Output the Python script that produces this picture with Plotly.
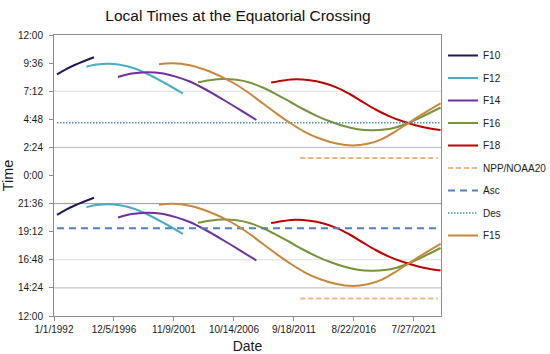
import pandas as pd
import plotly.graph_objects as go

# ---- data
# x: decimal years; y: ascending-node local time (hours).
# Descending-node time = ascending - 12 h (shown on the upper half of the axis).
F10_year = [1992.246, 1992.961, 1993.700, 1995.285]
F10_asc = [20.64, 21.07, 21.44, 22.10]

F12_year = [1994.661, 1995.507, 1996.411, 1997.396, 1998.628, 1999.860, 2001.092, 2002.596]
F12_asc = [21.292, 21.472, 21.540, 21.455, 21.139, 20.584, 19.900, 19.004]

F14_year = [1997.257, 1998.382, 1999.614, 2000.846, 2001.996, 2003.146, 2004.460,
            2005.881, 2007.253, 2008.624]
F14_asc = [20.413, 20.703, 20.823, 20.737, 20.447, 20.028, 19.345, 18.491, 17.628, 16.740]

F16_year = [2003.828, 2004.789, 2005.881, 2007.006, 2008.074, 2009.142, 2010.267,
            2011.359, 2012.452, 2013.577, 2014.645, 2015.877, 2016.945, 2018.095,
            2019.162, 2020.148, 2021.216, 2022.448, 2023.762]
F16_asc = [19.960, 20.140, 20.242, 20.174, 19.943, 19.516, 18.935, 18.320, 17.680,
           17.099, 16.629, 16.202, 15.954, 15.869, 15.920, 16.125, 16.527, 17.124, 17.808]

F18_year = [2009.840, 2010.867, 2011.934, 2013.002, 2014.070, 2015.195, 2016.288,
            2017.356, 2018.423, 2019.573, 2020.641, 2021.709, 2022.694, 2023.762]
F18_asc = [19.935, 20.122, 20.216, 20.131, 19.918, 19.533, 18.961, 18.295, 17.637,
           17.056, 16.629, 16.296, 16.065, 15.886]

F15_year = [2000.624, 2001.749, 2003.146, 2004.789, 2006.678, 2008.074, 2009.142,
            2010.292, 2011.359, 2012.591, 2013.824, 2015.220, 2016.534, 2017.766,
            2018.998, 2020.066, 2021.216, 2022.448, 2023.762]
F15_asc = [21.506, 21.583, 21.421, 20.883, 19.943, 19.004, 18.167, 17.287, 16.518,
           15.732, 15.160, 14.725, 14.562, 14.707, 15.134, 15.775, 16.544, 17.355, 18.167]

NPP_year = [2012.238, 2023.540]
NPP_asc = [13.5, 13.5]

REF_year = [1992.246, 2023.762]
ASC_ref = [19.5, 19.5]
DES_ref = [4.5, 4.5]

Y_TICKS = [12, 14.4, 16.8, 19.2, 21.6, 24, 26.4, 28.8, 31.2, 33.6, 36]
Y_LABELS = ["12:00", "14:24", "16:48", "19:12", "21:36", "0:00",
            "2:24", "4:48", "7:12", "9:36", "12:00"]
X_TICKS = ["1992-01-01", "1996-12-05", "2001-11-09", "2006-10-14",
           "2011-09-18", "2016-08-22", "2021-07-27"]
X_LABELS = ["1/1/1992", "12/5/1996", "11/9/2001", "10/14/2006",
            "9/18/2011", "8/22/2016", "7/27/2021"]
X_RANGE = [1992.0, 2023.80]
GRID_LIGHT = [31.2, 16.8]
GRID_MED = [26.4, 14.4]
GRID_DARK = [21.6]

FONT = "Arial, Liberation Sans, sans-serif"


def to_date(yf):
    y = int(yf)
    start = pd.Timestamp(year=y, month=1, day=1)
    length = (pd.Timestamp(year=y + 1, month=1, day=1) - start).days
    return (start + pd.Timedelta(days=(yf - y) * length)).strftime("%Y-%m-%d %H:%M")


def dates(years):
    return [to_date(v) for v in years]


fig = go.Figure()


def sat(name, years, asc, color):
    xs = dates(years)
    fig.add_trace(go.Scatter(x=xs, y=[v + 12 for v in asc], mode="lines",
                             name=name, legendgroup=name, showlegend=True,
                             line=dict(color=color, width=2, shape="spline"),
                             hoverinfo="skip"))
    fig.add_trace(go.Scatter(x=xs, y=asc, mode="lines",
                             name=name, legendgroup=name, showlegend=False,
                             line=dict(color=color, width=2, shape="spline"),
                             hoverinfo="skip"))


sat("F10", F10_year, F10_asc, "#1b1b5c")
sat("F12", F12_year, F12_asc, "#4bacc6")
sat("F14", F14_year, F14_asc, "#7030a0")
sat("F16", F16_year, F16_asc, "#77933c")
sat("F18", F18_year, F18_asc, "#c00000")

npp_x = dates(NPP_year)
fig.add_trace(go.Scatter(x=npp_x, y=[v + 12 for v in NPP_asc], mode="lines",
                         name="NPP/NOAA20", legendgroup="NPP", hoverinfo="skip",
                         line=dict(color="#f0b880", width=2, dash="5px,3px")))
fig.add_trace(go.Scatter(x=npp_x, y=NPP_asc, mode="lines",
                         name="NPP/NOAA20", legendgroup="NPP", showlegend=False,
                         hoverinfo="skip",
                         line=dict(color="#f0b880", width=2, dash="5px,3px")))
ref_x = dates(REF_year)
fig.add_trace(go.Scatter(x=ref_x, y=ASC_ref, mode="lines", name="Asc",
                         legendgroup="Asc", hoverinfo="skip",
                         line=dict(color="#4f81bd", width=2, dash="7px,5px")))
fig.add_trace(go.Scatter(x=ref_x, y=[v + 24 for v in DES_ref], mode="lines", name="Des",
                         legendgroup="Des", hoverinfo="skip",
                         line=dict(color="#4a8fb5", width=1.5, dash="1.5px,1.5px")))

sat("F15", F15_year, F15_asc, "#c8883c")

for v in GRID_LIGHT:
    fig.add_hline(y=v, line=dict(color="#dedede", width=1), layer="below")
for v in GRID_MED:
    fig.add_hline(y=v, line=dict(color="#b8b8b8", width=1), layer="below")
for v in GRID_DARK:
    fig.add_hline(y=v, line=dict(color="#999999", width=1), layer="below")

fig.update_layout(
    width=550, height=354,
    margin=dict(l=54, r=109, t=35, b=38, autoexpand=False),
    paper_bgcolor="white", plot_bgcolor="white",
    font=dict(family=FONT, size=10, color="#1a1a1a"),
    title=dict(text="Local Times at the Equatorial Crossing",
               font=dict(size=15.5, color="#111111"),
               x=238 / 550, xanchor="center", xref="container",
               y=1 - 16 / 354, yanchor="middle", yref="container"),
    showlegend=True,
    hovermode=False,
    legend=dict(x=443 / 550, xref="container", xanchor="left",
                y=1 - 41 / 354, yref="container", yanchor="top",
                font=dict(size=10, color="#1a1a1a"),
                tracegroupgap=3.5, itemwidth=30, maxheight=340,
                bgcolor="rgba(0,0,0,0)"),
    xaxis=dict(type="date", range=[to_date(X_RANGE[0]), to_date(X_RANGE[1])],
               tickvals=X_TICKS, ticktext=X_LABELS,
               showgrid=False, zeroline=False,
               showline=True, linecolor="#8c8c8c", linewidth=1, mirror=True,
               ticks="outside", ticklen=4, tickcolor="#8c8c8c",
               tickfont=dict(size=10),
               title=dict(text="Date", font=dict(size=14), standoff=11)),
    yaxis=dict(range=[12, 36], tickvals=Y_TICKS, ticktext=Y_LABELS,
               showgrid=False, zeroline=False,
               showline=True, linecolor="#8c8c8c", linewidth=1, mirror=True,
               ticks="outside", ticklen=4, tickcolor="#8c8c8c",
               ticklabelstandoff=4,
               tickfont=dict(size=10),
               title=dict(text="Time", font=dict(size=14.5), standoff=3.5)),
)

fig.write_html("out.html",
               config={"displayModeBar": False},
               post_script="document.body.style.margin='0';document.body.style.overflow='hidden';")
